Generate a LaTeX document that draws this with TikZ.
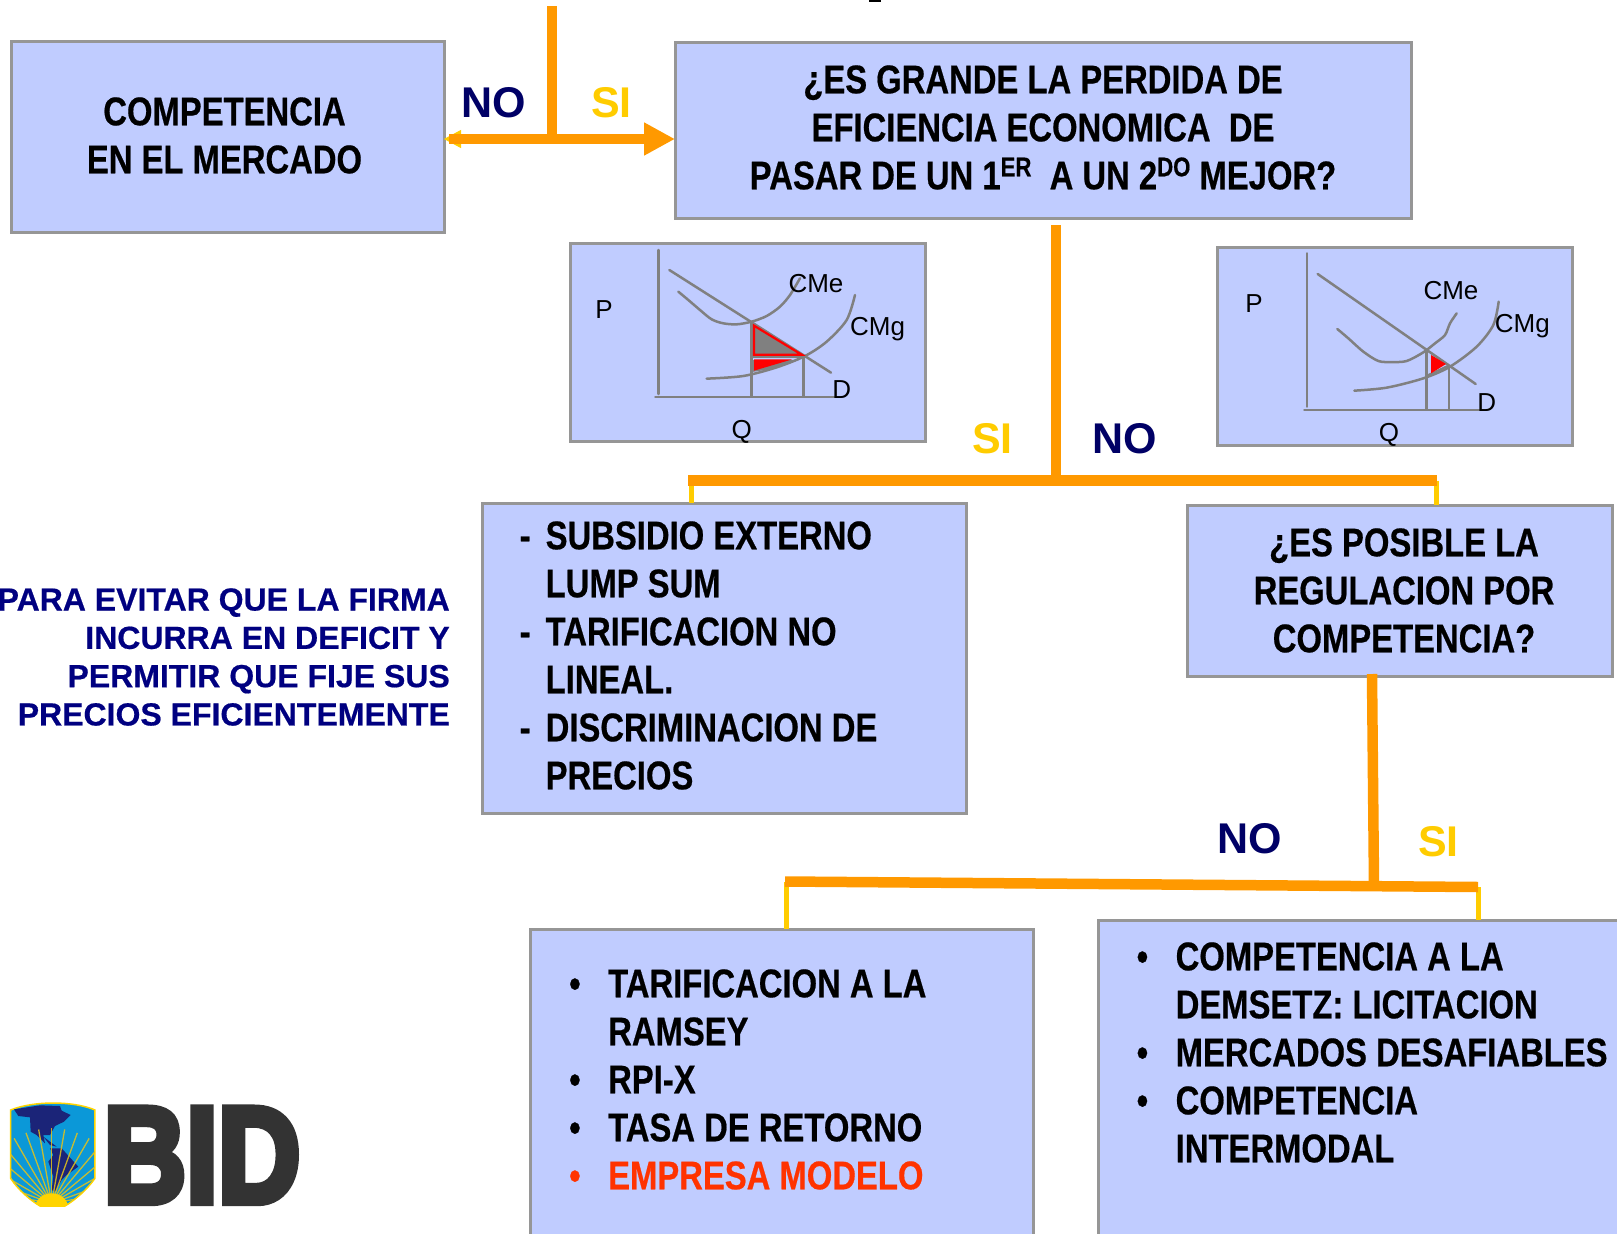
\documentclass[tikz,border=0pt]{standalone}
\usepackage{fontspec}
\setmainfont{Liberation Sans}
\newfontfamily\nb{Liberation Sans}[UprightFont=* Bold,FakeStretch=0.82,FakeBold=0.5]
\newfontfamily\wb{Liberation Sans}[UprightFont=* Bold]
\newfontfamily\wbb{Liberation Sans}[UprightFont=* Bold,FakeBold=0.5]
\newfontfamily\bidf{Liberation Sans}[UprightFont=* Bold,FakeBold=6]
\usetikzlibrary{arrows.meta}
\definecolor{boxfill}{HTML}{C0CCFF}
\definecolor{boxline}{HTML}{969696}
\definecolor{conn}{HTML}{FF9900}
\definecolor{stub}{HTML}{FFCC00}
\definecolor{navy}{HTML}{000066}
\definecolor{redt}{HTML}{FF3300}
\definecolor{gline}{HTML}{808080}
\definecolor{navyb}{HTML}{000080}
\newcommand{\supt}[1]{\raisebox{13pt}{\nb\fontsize{27}{27}\selectfont #1}}
\newcommand{\blt}[1]{\makebox[#1][l]{•}}
\tikzset{
  box/.style={draw=boxline,fill=boxfill,line width=3pt,anchor=north west,inner sep=0pt,outer sep=0pt},
  maintext/.style={font=\nb\fontsize{40}{48}\selectfont,inner sep=0pt,text=black},
  yn/.style={font=\wb\fontsize{43}{43}\selectfont,inner sep=0pt},
  graphtext/.style={font=\fontsize{26}{26}\selectfont,inner sep=0pt,text=black},
  bar/.style={draw=conn,line width=10.5pt},
  stubline/.style={draw=stub,line width=5pt},
  curve/.style={draw=gline,line width=2.5pt,line cap=round,line join=round},
}
\begin{document}
\begin{tikzpicture}[x=1pt,y=-1pt]
\useasboundingbox (0,0) rectangle (1617,1234);
\node[box,minimum width=433pt,minimum height=191pt] (comp) at (11,41) {};
\node[box,minimum width=736pt,minimum height=176pt] (q1) at (675,42) {};
\node[box,minimum width=355pt,minimum height=198pt] (g1) at (570,243) {};
\node[box,minimum width=355pt,minimum height=198pt] (g2) at (1217,247) {};
\node[box,minimum width=484pt,minimum height=310pt] (sub) at (482,503) {};
\node[box,minimum width=425pt,minimum height=171pt] (q2) at (1187,505) {};
\node[box,minimum width=503pt,minimum height=330pt] (ram) at (530,929) {};
\node[box,minimum width=560pt,minimum height=340pt] (dem) at (1098,920) {};
% texts
\node[maintext,align=center] (tcomp) at (224.5,135.5) {COMPETENCIA\\EN EL MERCADO};
\node[maintext,align=center] (tq1) at (1043,127.5) {¿ES GRANDE LA PERDIDA DE\\EFICIENCIA ECONOMICA\ \ DE\\PASAR DE UN 1\supt{ER}\ \ A UN 2\supt{DO} MEJOR?};
\node[maintext,align=center] (tq2) at (1404,590.5) {¿ES POSIBLE LA\\REGULACION POR\\COMPETENCIA?};
\node[maintext,align=left,anchor=west] (tsub) at (519.5,655.5) {\makebox[26pt][l]{-}SUBSIDIO EXTERNO\\\hspace*{26pt}LUMP SUM\\\makebox[26pt][l]{-}TARIFICACION NO\\\hspace*{26pt}LINEAL.\\\makebox[26pt][l]{-}DISCRIMINACION DE\\\hspace*{26pt}PRECIOS};
\node[maintext,align=left,anchor=west] (tram) at (569,1079.5) {\blt{39pt}TARIFICACION A LA\\\hspace*{39pt}RAMSEY\\\blt{39pt}RPI-X\\\blt{39pt}TASA DE RETORNO\\\textcolor{redt}{\blt{39pt}EMPRESA MODELO}};
\node[maintext,align=left,anchor=west] (tdem) at (1136.5,1052.5) {\blt{39pt}COMPETENCIA A LA\\\hspace*{39pt}DEMSETZ: LICITACION\\\blt{39pt}MERCADOS DESAFIABLES\\\blt{39pt}COMPETENCIA\\\hspace*{39pt}INTERMODAL};
\node[font=\wbb\fontsize{32}{38.3}\selectfont,text=navyb,align=right,anchor=east,inner sep=0pt] (tleft) at (450,657) {PARA EVITAR QUE LA FIRMA\\INCURRA EN DEFICIT Y\\PERMITIR QUE FIJE SUS\\PRECIOS EFICIENTEMENTE};
% labels
\node[yn,text=navy] (no1) at (493.5,103) {NO};
\node[yn,text=stub] (si1) at (611.5,103) {SI};
\node[yn,text=stub] (si2) at (992.5,439) {SI};
\node[yn,text=navy] (no2) at (1124.5,439) {NO};
\node[yn,text=navy] (no3) at (1249.5,839) {NO};
\node[yn,text=stub] (si3) at (1438.5,842) {SI};
% connectors
\coordinate (top1) at (552,6);
\coordinate (j1) at (552,139);
\coordinate (barl) at (449,139);
\draw[stub,line width=1pt,-{Triangle[length=17pt,width=18pt]}] (j1) -- (comp.east |- j1);
\draw[bar] (top1) -- (j1);
\draw[bar] (barl) -- (j1);
\draw[bar,-{Triangle[length=31pt,width=31pt]}] (j1) -- (q1.west |- j1);
\coordinate (j2) at (1056,480.5);
\coordinate (l2) at (688,480.5);
\coordinate (r2) at (1437,480.5);
\coordinate (ls2) at (691,480.5);
\coordinate (rs2) at (1436.5,480.5);
\draw[stubline] (ls2) -- (ls2 |- sub.north);
\draw[stubline] (rs2) -- (rs2 |- q2.north);
\draw[bar] (1056,225) -- (j2);
\draw[bar] (l2) -- (r2);
\coordinate (j3) at (1374,885.5);
\coordinate (l3) at (785,881.5);
\coordinate (r3) at (1478,887);
\draw[stubline] (786,881.5) -- (786,929);
\draw[stubline] (1478,887) -- (1478,920);
\draw[bar] (1372,674) -- (j3);
\draw[bar] (l3) -- (r3);
% stray mark at the top edge
\fill[black] (869,0) rectangle (881,2);
% graph 1
\begin{scope}[shift={(560,230)},x=0.33333pt,y=-0.33333pt]
\fill[gline] (574,426) .. controls (640,418) and (690,402) .. (735,382) -- (574,382) -- cycle;
\fill[boxfill] (578,384) rectangle (735,389);
\fill[red] (582,388) -- (697,388) -- (582,422) -- cycle;
\draw[curve] (296,60) -- (296,492);
\draw[curve] (286,501) -- (825,501);
\draw[curve] (328,120) -- (813,428);
\draw[curve,smooth] plot coordinates {(355,185) (385,210) (420,240) (455,268) (490,280) (530,283) (575,275) (620,258) (660,230) (690,195) (720,145)};
\draw[curve,smooth] plot coordinates {(440,446) (550,438) (650,412) (735,378) (800,335) (860,270) (885,195)};
\draw[curve] (574,280) -- (574,500);
\draw[curve] (731,380) -- (731,500);
\draw[curve,line width=2pt] (578,380) -- (735,380);
\draw[line width=2.2pt,line join=miter,fill=gline,draw=red] (582,287) -- (725,374) -- (582,374) -- cycle;
\node[graphtext] (g1cme) at (768,160) {CMe};
\node[graphtext] (g1cmg) at (953,296) {CMg};
\node[graphtext] (g1d) at (845,478) {D};
\node[graphtext] (g1p) at (132,238) {P};
\node[graphtext] (g1q) at (545,606) {Q};
\end{scope}
% graph 2
\begin{scope}[shift={(1210,235)},x=0.33333pt,y=-0.33333pt]
\draw[curve] (291,55) -- (291,515);
\draw[curve] (283,525) -- (808,525);
\draw[curve] (323,117) -- (797,447);
\draw[curve,smooth] plot coordinates {(382,282) (415,310) (460,350) (505,378) (545,381) (590,378) (640,352) (675,325) (705,300) (720,265) (740,235)};
\draw[curve,smooth] plot coordinates {(433,467) (530,458) (640,430) (720,395) (800,335) (850,270) (866,200)};
\draw[curve] (650,350) -- (650,523);
\draw[curve] (717,395) -- (717,523);
\draw[curve,line width=2pt] (655,420) -- (715,392);
\fill[red] (663,360) -- (708,387) -- (663,415) -- cycle;
\node[graphtext] (g2cme) at (723,167) {CMe};
\node[graphtext] (g2cmg) at (937,273) {CMg};
\node[graphtext] (g2d) at (830,502) {D};
\node[graphtext] (g2p) at (132,205) {P};
\node[graphtext] (g2q) at (537,600) {Q};
\end{scope}
% logo
\begin{scope}[shift={(0,1080)},x=0.33333pt,y=-0.33333pt]
\definecolor{logoblue}{HTML}{0B98D8}
\definecolor{logonavy}{HTML}{1B2478}
\definecolor{logoyel}{HTML}{FFD400}
\def\shieldpath{(32,90) .. controls (100,62) and (220,62) .. (285,90) -- (285,295) .. controls (260,330) and (225,360) .. (195,378) -- (120,378) .. controls (90,360) and (55,330) .. (32,295) -- cycle}
\path[fill=logoblue,draw=logoyel,line width=1.5pt] \shieldpath;
\begin{scope}
\clip \shieldpath;
\fill[logonavy] (42,88) -- (120,76) -- (180,78) -- (185,92) -- (212,105) -- (192,125) -- (165,138) -- (150,165) -- (130,165) -- (135,190) -- (110,165) -- (92,155) -- (90,112) -- (55,108) -- cycle;
\fill[logonavy] (130,170) -- (170,200) -- (150,195) -- cycle;
\fill[logonavy] (150,205) -- (185,205) -- (235,260) -- (200,285) -- (185,300) -- (165,335) -- (155,330) -- (160,290) -- (145,245) -- (160,225) -- cycle;
\foreach \a in {10,20,...,170}{
  \draw[line width=1.3pt,draw=logoyel!80!gray,opacity=.85] (155,370) -- ({155+225*cos(\a)},{370-225*sin(\a)});
}
\fill[logoyel] (155,385) circle [x radius=50pt/3,y radius=45pt/3];
\end{scope}
\node[font=\bidf\fontsize{136}{136}\selectfont,text=black!80,inner sep=0pt,anchor=center,xscale=0.84] (bid) at (606,226) {BID};
\end{scope}
\end{tikzpicture}
\end{document}
